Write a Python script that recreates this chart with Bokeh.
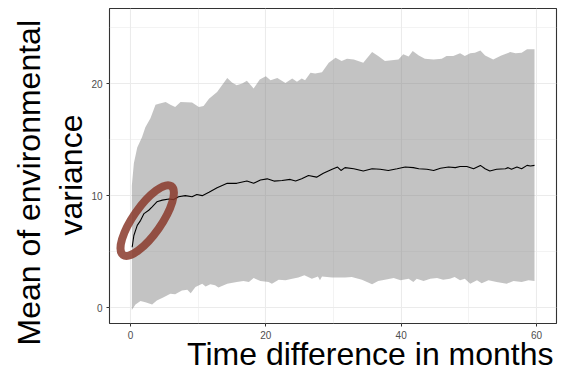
from bokeh.plotting import figure
from bokeh.models import Range1d, FixedTicker, Title
from bokeh.embed import file_html
from bokeh.resources import INLINE

# ---------------- data ----------------
upper_x = [0.2, 0.5, 1.0, 1.7, 2.2, 2.95, 3.7, 4.2, 5.2, 5.9, 6.6, 7.4, 9.1, 10.1, 10.8,
           11.6, 12.8, 14.3, 15.0, 15.7, 16.5, 17.2, 18.2, 19.1, 20.0, 20.7, 21.7, 22.9,
           23.9, 24.6, 25.3, 25.8, 26.6, 27.3, 28.3, 29.3, 30.3, 31.2, 32.0, 33.0, 34.4,
           35.7, 36.6, 37.6, 39.6, 40.3, 41.1, 41.7, 42.6, 43.5, 44.8, 46.0, 46.7, 47.7,
           48.7, 49.4, 50.2, 50.9, 51.7, 52.4, 53.6, 54.8, 56.1, 56.9, 57.8, 58.6, 59.7]
upper_y = [10.9, 12.9, 14.3, 15.2, 16.1, 16.9, 18.1, 18.2, 18.35, 18.1, 17.9, 18.35, 18.3,
           17.9, 18.0, 18.65, 19.25, 20.5, 20.1, 19.85, 20.0, 20.25, 19.55, 20.35, 20.65,
           20.3, 20.5, 20.05, 20.45, 20.15, 20.45, 20.3, 20.95, 20.9, 21.0, 21.85, 22.3,
           22.0, 22.2, 22.15, 21.85, 22.8, 22.45, 22.0, 22.15, 22.6, 22.4, 22.9, 22.5, 22.2,
           22.15, 22.2, 22.45, 22.45, 22.7, 22.45, 22.7, 22.75, 22.95, 22.5, 22.15, 22.5,
           22.8, 22.7, 22.75, 23.05, 23.05]

lower_x = [0.2, 0.74, 1.48, 2.2, 3.2, 3.9, 4.9, 5.9, 6.6, 7.6, 8.4, 8.9, 9.6, 10.6, 11.1,
           11.8, 12.5, 13.0, 14.3, 15.7, 16.7, 17.5, 18.2, 19.2, 20.4, 20.9, 21.9, 22.9,
           23.9, 24.8, 25.7, 26.8, 27.7, 28.0, 28.3, 29.8, 31.7, 32.7, 34.2, 35.7, 36.6,
           37.6, 38.9, 39.9, 41.1, 41.8, 42.3, 43.3, 44.3, 45.3, 46.2, 47.2, 47.9, 48.7,
           49.4, 50.2, 51.2, 51.9, 52.9, 54.1, 55.6, 56.6, 57.8, 58.8, 59.7]
lower_y = [-0.2, 0.3, 0.6, 0.5, 0.3, 0.65, 0.95, 1.25, 1.2, 1.55, 1.6, 1.3, 1.85, 2.15, 1.9,
           2.1, 2.0, 1.8, 2.15, 2.3, 2.4, 2.3, 2.65, 2.4, 2.3, 2.15, 2.5, 2.45, 2.6, 2.7,
           2.9, 2.6, 2.8, 2.45, 2.8, 2.7, 2.7, 2.75, 2.5, 2.1, 2.4, 2.5, 2.65, 2.45, 2.6,
           2.3, 2.6, 2.4, 2.6, 2.65, 2.5, 2.6, 2.75, 2.45, 2.6, 2.15, 2.45, 2.2, 2.45, 2.3,
           2.15, 2.4, 2.3, 2.45, 2.4]

mean_x = [0.25, 0.5, 1.0, 1.5, 2.0, 2.7, 3.2, 3.9, 4.7, 5.7, 6.4, 7.1, 8.1, 9.1, 9.8, 10.6,
          11.6, 12.8, 14.3, 15.7, 17.2, 18.2, 19.2, 20.2, 21.2, 22.4, 23.6, 24.4, 25.3,
          26.3, 27.5, 28.5, 29.8, 30.6, 31.1, 31.7, 33.0, 34.4, 35.7, 36.9, 38.1, 39.4,
          40.6, 41.8, 42.6, 43.8, 44.8, 45.8, 47.0, 48.0, 48.7, 49.7, 50.7, 51.7, 52.4,
          53.1, 54.1, 55.4, 55.8, 56.3, 57.1, 57.8, 58.6, 59.1, 59.7]
mean_y = [5.4, 6.45, 7.35, 7.8, 8.4, 8.7, 9.0, 9.45, 9.6, 9.7, 9.65, 9.9, 10.0, 9.9, 10.1,
          10.0, 10.3, 10.7, 11.1, 11.1, 11.3, 11.1, 11.4, 11.5, 11.3, 11.35, 11.45, 11.3,
          11.5, 11.8, 11.65, 12.0, 12.35, 12.55, 12.25, 12.5, 12.4, 12.2, 12.4, 12.35,
          12.25, 12.4, 12.55, 12.5, 12.4, 12.35, 12.25, 12.45, 12.55, 12.5, 12.6, 12.6,
          12.4, 12.7, 12.4, 12.2, 12.35, 12.4, 12.5, 12.35, 12.55, 12.4, 12.7, 12.65, 12.7]

x_ticks = [0, 20, 40, 60]
x_minor = [10, 30, 50]
y_ticks = [0, 10, 20]
y_minor = [5, 15, 25]

x_title = "Time difference in months"
y_title_lines = ["Mean of environmental", "variance"]

# highlight ellipse (centre in data units)
ell_x, ell_y = 2.47, 7.78

FONT = "Liberation Sans"

# ---------------- figure ----------------
p = figure(width=585, height=376, output_backend="svg", toolbar_location=None,
           x_range=Range1d(-3.1, 62.95), y_range=Range1d(-1.40, 26.69),
           min_border_left=109, min_border_right=29, min_border_top=8,
           min_border_bottom=53)
p.background_fill_color = "white"
p.border_fill_color = "white"
p.outline_line_color = "#333333"
p.outline_line_width = 1.1

xt = FixedTicker(ticks=x_ticks, minor_ticks=x_minor)
yt = FixedTicker(ticks=y_ticks, minor_ticks=y_minor)
p.xaxis.ticker = xt
p.yaxis.ticker = yt
p.xgrid.ticker = xt
p.ygrid.ticker = yt

for ax in (p.xaxis, p.yaxis):
    ax.axis_line_color = None
    ax.major_tick_line_color = "#333333"
    ax.major_tick_in = 0
    ax.major_tick_out = 3
    ax.minor_tick_line_color = None
    ax.major_label_text_color = "#4D4D4D"
    ax.major_label_text_font = FONT
    ax.major_label_text_font_size = "10px"
    ax.major_label_standoff = 3

for g in (p.xgrid, p.ygrid):
    g.grid_line_color = "#EBEBEB"
    g.grid_line_width = 1.1
    g.minor_grid_line_color = "#EBEBEB"
    g.minor_grid_line_width = 0.6

# ribbon
rib_x = upper_x + lower_x[::-1]
rib_y = upper_y + lower_y[::-1]
p.patch(rib_x, rib_y, fill_color="#7F7F7F", fill_alpha=0.47, line_color=None)

# mean line
p.line(mean_x, mean_y, line_color="black", line_width=1.1)

# highlight ellipse
p.ellipse(x=[ell_x], y=[ell_y], width=84, height=28, angle=55, angle_units="deg",
          width_units="screen", height_units="screen", fill_color=None,
          line_color="#8A3A2C", line_alpha=0.85, line_width=8)

# x title: right aligned title in the bottom panel
tx = Title(text=x_title, align="right", offset=3, standoff=-12,
           vertical_align="top", text_font=FONT, text_font_size="32px",
           text_font_style="normal", text_color="black")
p.add_layout(tx, "below")

# y title: two lines as titles in the left panel
t2 = Title(text=y_title_lines[1], align="left", offset=88, standoff=0,
           vertical_align="bottom", text_font=FONT, text_font_size="32px",
           text_font_style="normal", text_color="black")
t1 = Title(text=y_title_lines[0], align="left", offset=-22, standoff=8,
           vertical_align="bottom", text_font=FONT, text_font_size="32px",
           text_font_style="normal", text_color="black")
p.add_layout(t2, "left")
p.add_layout(t1, "left")

open("out.html", "w").write(file_html(p, INLINE))
